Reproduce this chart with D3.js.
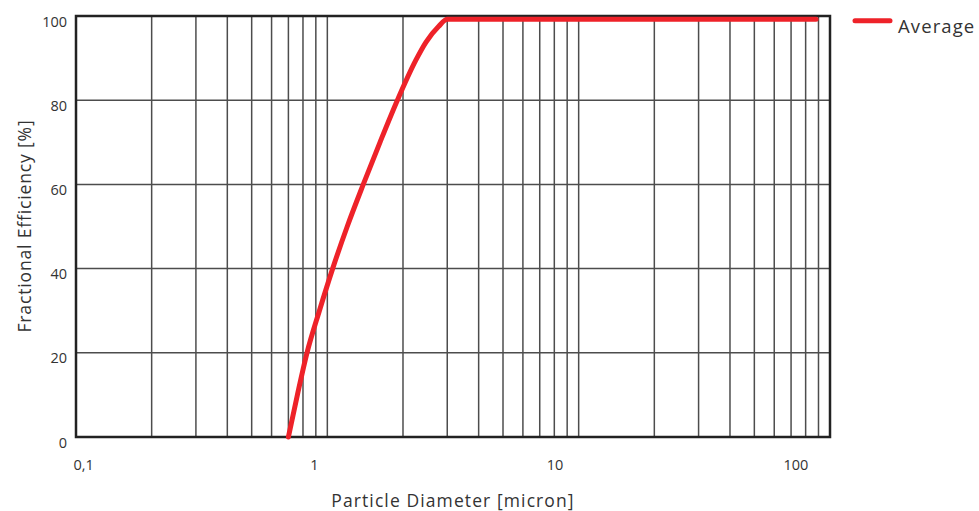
<!DOCTYPE html>
<html>
<head>
<meta charset="utf-8">
<script src="https://cdn.jsdelivr.net/npm/d3@7"></script>
<style>
  html, body { margin: 0; padding: 0; background: #ffffff; }
  svg { display: block; }
  text { font-family: "Open Sans", "DejaVu Sans", sans-serif; fill: #333333; }
</style>
</head>
<body>
<svg id="chart" width="979" height="511"></svg>
<script>
// ---- data ----
const diameter   = [0.70, 0.76, 0.83, 0.93, 1.05, 1.20, 1.39, 1.62, 1.90, 2.25, 2.47, 2.77, 3.00, 88];
const efficiency = [0,    10,   20,   30,   40,   50,   60,   70,   80,   89.5, 93.8, 97.5, 99.2, 99.2];
const seriesName = "Average";
const xTickValues = [0.1, 1, 10, 100];
const xTickLabels = ["0,1", "1", "10", "100"];
const yTickValues = [0, 20, 40, 60, 80, 100];
const xGridValues = [0.2,0.3,0.4,0.5,0.6,0.7,0.8,0.9,1,2,3,4,5,6,7,8,9,10,20,30,40,50,60,70,80,90];
const yGridValues = [20, 40, 60, 80];
const xTitle = "Particle Diameter [micron]";
const yTitle = "Fractional Efficiency [%]";

// ---- layout ----
const svg = d3.select("#chart");
const pL = 76, pR = 830, pT = 16, pB = 437;

const x = d3.scaleLog().domain([0.1, 100]).range([pL, pR]);
const y = d3.scaleLinear().domain([0, 100]).range([pB, pT]);
// tick labels in the reference sit on their own, slightly narrower, spacing
const xLabel = d3.scaleLog().domain([0.1, 100]).range([73, 783]);

const gridColor = "#4d4d4d";
const red = "#ee2229";

// vertical grid
svg.append("g").selectAll("line").data(xGridValues).join("line")
  .attr("x1", d => x(d)).attr("x2", d => x(d))
  .attr("y1", pT).attr("y2", pB)
  .attr("stroke", gridColor).attr("stroke-width", 1.5);

// horizontal grid
svg.append("g").selectAll("line").data(yGridValues).join("line")
  .attr("x1", pL).attr("x2", pR)
  .attr("y1", d => y(d)).attr("y2", d => y(d))
  .attr("stroke", gridColor).attr("stroke-width", 1.5);

// frame
svg.append("rect")
  .attr("x", pL).attr("y", pT)
  .attr("width", pR - pL).attr("height", pB - pT)
  .attr("fill", "none").attr("stroke", "#222222").attr("stroke-width", 2.5);

// x tick labels
const xAxis = d3.axisBottom(xLabel).tickValues(xTickValues)
  .tickFormat((d, i) => xTickLabels[i]).tickSize(0).tickPadding(0);
const gx = svg.append("g").attr("transform", `translate(0,${pB})`).call(xAxis);
gx.select(".domain").remove();
gx.selectAll("text")
  .attr("text-anchor", "start")
  .attr("y", 33).attr("dy", 0)
  .style("font-family", '"Open Sans", sans-serif')
  .style("font-size", "14.5px").attr("fill", "#333");

// y tick labels
const yAxis = d3.axisLeft(y).tickValues(yTickValues).tickSize(0).tickPadding(0);
const gy = svg.append("g").attr("transform", `translate(67,5.5)`).call(yAxis);
gy.select(".domain").remove();
gy.selectAll("text")
  .attr("x", 0)
  .style("font-family", '"Open Sans", sans-serif')
  .style("font-size", "14.5px").attr("fill", "#333");

// line
const line = d3.line()
  .x((d, i) => x(diameter[i]))
  .y(d => y(d))
  .curve(d3.curveMonotoneX);
svg.append("path")
  .datum(efficiency)
  .attr("d", line)
  .attr("fill", "none")
  .attr("stroke", red)
  .attr("stroke-width", 5)
  .attr("stroke-linecap", "round")
  .attr("stroke-linejoin", "round");

// axis titles
svg.append("text")
  .attr("x", 453).attr("y", 507)
  .attr("text-anchor", "middle")
  .style("font-size", "17.5px")
  .style("letter-spacing", "1.1px")
  .text(xTitle);

svg.append("text")
  .attr("transform", "translate(31,226) rotate(-90)")
  .attr("text-anchor", "middle")
  .style("font-size", "17.5px")
  .style("letter-spacing", "0.85px")
  .text(yTitle);

// legend
const lg = svg.append("g");
lg.append("line")
  .attr("x1", 855).attr("x2", 890)
  .attr("y1", 20.8).attr("y2", 20.8)
  .attr("stroke", red).attr("stroke-width", 5).attr("stroke-linecap", "round");
lg.append("text")
  .attr("x", 898).attr("y", 32.5)
  .style("font-size", "18.5px")
  .style("letter-spacing", "1.1px")
  .text(seriesName);
</script>
</body>
</html>
